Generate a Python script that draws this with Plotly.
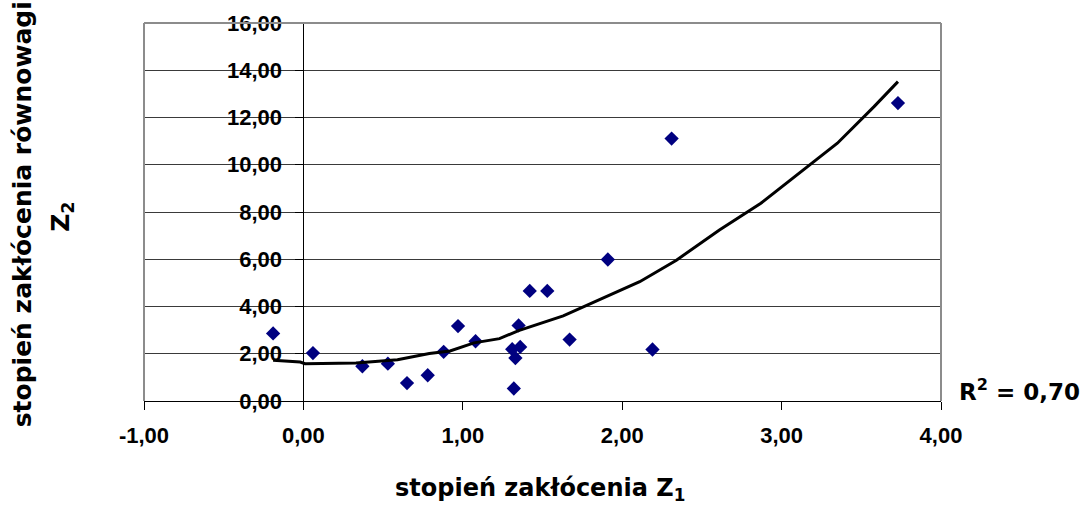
import plotly.graph_objects as go

# data points (Z1, Z2)
z1 = [-0.19, 0.06, 0.37, 0.53, 0.65, 0.78, 0.88, 0.97, 1.08, 1.32, 1.31, 1.33, 1.36, 1.35,
      1.42, 1.53, 1.67, 1.91, 2.19, 2.31, 3.73]
z2 = [2.86, 2.03, 1.47, 1.58, 0.76, 1.09, 2.08, 3.17, 2.53, 0.53, 2.19, 1.82, 2.29, 3.20,
      4.66, 4.66, 2.60, 5.99, 2.18, 11.11, 12.61]

# trend line
trend_x = [-0.19, -0.02, 0.01, 0.33, 0.59, 0.79, 0.92, 1.07, 1.23, 1.35, 1.63, 1.88, 2.11,
           2.34, 2.61, 2.87, 3.12, 3.35, 3.58, 3.73]
trend_y = [1.72, 1.65, 1.58, 1.61, 1.75, 2.01, 2.12, 2.46, 2.64, 2.98, 3.60, 4.34, 5.05,
           5.96, 7.24, 8.37, 9.71, 10.91, 12.46, 13.52]

x_ticks = [-1, 0, 1, 2, 3, 4]
x_ticktext = ["-1,00", "0,00", "1,00", "2,00", "3,00", "4,00"]
y_ticks = [0, 2, 4, 6, 8, 10, 12, 14, 16]
y_ticktext = ["0,00", "2,00", "4,00", "6,00", "8,00", "10,00", "12,00", "14,00", "16,00"]

tick_font = dict(family="Liberation Sans", size=22, color="black", weight="bold")
title_font = dict(family="DejaVu Sans", size=25, color="black", weight="bold")

fig = go.Figure()
fig.add_trace(go.Scatter(
    x=z1, y=z2, mode="markers",
    marker=dict(symbol="diamond", size=11, color="#000080", line=dict(width=0)),
    showlegend=False, hoverinfo="x+y"))
fig.add_trace(go.Scatter(
    x=trend_x, y=trend_y, mode="lines",
    line=dict(color="black", width=3),
    showlegend=False, hoverinfo="skip"))

fig.update_layout(
    width=1088, height=507,
    margin=dict(l=144, r=147, t=23, b=106),
    paper_bgcolor="white", plot_bgcolor="white",
    xaxis=dict(range=[-1, 4], tickvals=x_ticks, ticktext=x_ticktext,
               ticks="outside", ticklen=8, tickcolor="black", tickwidth=1,
               showline=True, linecolor="black", linewidth=1,
               showgrid=False, zeroline=False, tickfont=tick_font,
               ticklabelstandoff=7),
    yaxis=dict(range=[0, 16], tickvals=y_ticks, ticktext=y_ticktext,
               anchor="free", position=0.2,
               ticks="outside", ticklen=8, tickcolor="black", tickwidth=1,
               showline=True, linecolor="black", linewidth=1,
               showgrid=True, gridcolor="#3a3a3a", gridwidth=1,
               zeroline=False, tickfont=tick_font, ticklabelstandoff=9),
    shapes=[
        dict(type="line", xref="paper", yref="paper", x0=0, x1=0, y0=0, y1=1,
             line=dict(color="#8c8c8c", width=2), layer="above"),
        dict(type="line", xref="paper", yref="paper", x0=0, x1=1, y0=1, y1=1,
             line=dict(color="#8c8c8c", width=2), layer="above"),
        dict(type="line", xref="paper", yref="paper", x0=1, x1=1, y0=0, y1=1,
             line=dict(color="#8c8c8c", width=2), layer="above"),
    ],
    annotations=[
        dict(text="stopień zakłócenia Z<sub>1</sub>", xref="paper", yref="paper",
             x=0.497, y=-0.235, xanchor="center", yanchor="middle",
             showarrow=False, font=dict(family="DejaVu Sans", size=24, color="black", weight="bold")),
        dict(text="stopień zakłócenia równowagi", xref="paper", yref="paper",
             x=-0.153, y=0.494, xanchor="center", yanchor="middle", textangle=-90,
             showarrow=False, font=title_font),
        dict(text="Z<sub>2</sub>", xref="paper", yref="paper",
             x=-0.103, y=0.487, xanchor="center", yanchor="middle", textangle=-90,
             showarrow=False, font=title_font),
        dict(text="R<sup>2</sup> = 0,70", xref="paper", yref="paper",
             x=1.098, y=0.029, xanchor="center", yanchor="middle",
             showarrow=False, font=dict(family="DejaVu Sans", size=23,
                                         color="black", weight="bold")),
    ],
)

fig.write_html("out.html", config={"displayModeBar": False},
               post_script="document.body.style.margin='0';")
